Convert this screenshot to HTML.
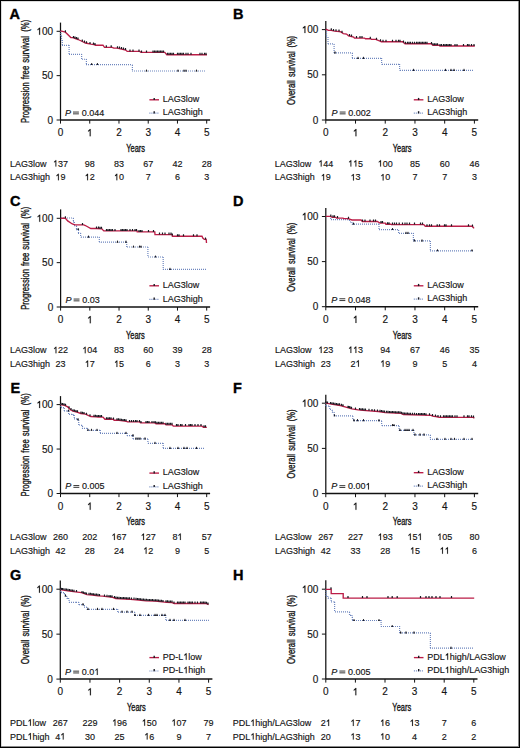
<!DOCTYPE html>
<html><head><meta charset="utf-8"><style>
html,body{margin:0;padding:0;background:#fff;}
body{width:520px;height:748px;overflow:hidden;}
svg{display:block;}
text{font-family:"Liberation Sans",sans-serif;fill:#141414;}
.n{font-size:9px;stroke:#141414;stroke-width:0.15px;}
.t{font-size:10px;stroke:#141414;stroke-width:0.15px;}
.lt{font-size:14.5px;font-weight:bold;fill:#000;stroke:#000;stroke-width:0.35px;}
.yl{font-size:10.8px;stroke:#141414;stroke-width:0.35px;}
.ay{stroke:#111;stroke-width:1.25;fill:none;}
.ax{stroke:#111;stroke-width:1.5;fill:none;}
.tk{stroke:#111;stroke-width:1;fill:none;}
.cr{stroke:#bb1d47;stroke-width:1.35;fill:none;stroke-linejoin:miter;}
.cb{stroke:#6f87bf;stroke-width:1.2;fill:none;stroke-dasharray:1 1;}
.cm{fill:#1a1a22;stroke:none;}
.eq{stroke:#141414;stroke-width:0.85;fill:none;}
.one{fill:#141414;stroke:#141414;stroke-width:0.015;}
</style></head><body>
<svg width="520" height="748" viewBox="0 0 520 748">
<rect x="0" y="0" width="520" height="748" fill="#fff"/>
<g><text x="9.4" y="18.75" class="lt">A</text>
<path d="M60.5 22.6V120" class="ay"/>
<path d="M60.5 120H210.1" class="ax"/>
<path d="M56.6 31.3H60.5" class="tk"/>
<path d="M0.368 0H0.275V-0.545L0.112 -0.452V-0.548L0.3 -0.716H0.368Z" transform="matrix(10 0 0 10 36.42 34.8)" class="one"/><text x="41.98" y="34.8" class="t">00</text>
<path d="M56.6 75.65H60.5" class="tk"/>
<text x="41.98" y="79.15" class="t">50</text>
<path d="M56.6 120H60.5" class="tk"/>
<text x="47.54" y="123.5" class="t">0</text>
<path d="M60.5 120V123.6" class="tk"/>
<text x="57.72" y="136.2" class="t">0</text>
<path d="M89.74 120V123.6" class="tk"/>
<path d="M0.368 0H0.275V-0.545L0.112 -0.452V-0.548L0.3 -0.716H0.368Z" transform="matrix(10 0 0 10 86.96 136.2)" class="one"/>
<path d="M118.98 120V123.6" class="tk"/>
<text x="116.2" y="136.2" class="t">2</text>
<path d="M148.22 120V123.6" class="tk"/>
<text x="145.44" y="136.2" class="t">3</text>
<path d="M177.46 120V123.6" class="tk"/>
<text x="174.68" y="136.2" class="t">4</text>
<path d="M206.7 120V123.6" class="tk"/>
<text x="203.92" y="136.2" class="t">5</text>
<text x="135.6" y="151.8" class="yl" text-anchor="middle" textLength="18.8" lengthAdjust="spacingAndGlyphs">Years</text>
<g transform="translate(29.2,71.3) rotate(-90)"><text x="-51.6" y="0" class="yl" textLength="40.7" lengthAdjust="spacingAndGlyphs">Progression</text><text x="-7.9" y="0" class="yl" textLength="13.4" lengthAdjust="spacingAndGlyphs">free</text><text x="8.5" y="0" class="yl" textLength="26.8" lengthAdjust="spacingAndGlyphs">survival</text><text x="39.5" y="0" class="yl" textLength="12" lengthAdjust="spacingAndGlyphs">(%)</text></g>
<path d="M60.8 31V36" class="cb"/>
<path d="M61 36H61.5" class="cb"/>
<path d="M61.5 36V40.5" class="cb"/>
<path d="M62 40.5H62.3" class="cb"/>
<path d="M62.3 40V45.3" class="cb"/>
<path d="M62 45.3H69.1" class="cb"/>
<path d="M69.1 45V54.4" class="cb"/>
<path d="M69 54.4H81.6" class="cb"/>
<path d="M81.6 54V59.25" class="cb"/>
<path d="M82 59.25H86.4" class="cb"/>
<path d="M86.4 59V64.6" class="cb"/>
<path d="M86 64.6H132.4" class="cb"/>
<path d="M132.4 65V71" class="cb"/>
<path d="M132 71H205.6" class="cb"/>
<polyline points="60.5,30.9 65.4,32.2 70.8,37.6 72.7,37.6 78.1,39.5 82.3,41.5 85.4,43 90.8,44.2 93.8,44.5 95.4,45.2 103,45.2 104.5,47.3 112.2,47.3 113.8,48.1 117.2,48.1 125.7,50 127.2,51.4 139.8,51.4 141,52.4 164.8,52.4 166.8,54.7 207,54.7" class="cr"/>
<path d="M64.7 32.2h1.4l-0.15 -2h-1.1zM72.8 37.88h1.4l-0.15 -2h-1.1zM74.3 38.41h1.4l-0.15 -2h-1.1zM75.8 38.94h1.4l-0.15 -2h-1.1zM77.3 39.46h1.4l-0.15 -2h-1.1zM81.6 41.5h1.4l-0.15 -2h-1.1zM83.8 42.56h1.4l-0.15 -2h-1.1zM85.8 43.24h1.4l-0.15 -2h-1.1zM89.3 44.02h1.4l-0.15 -2h-1.1zM92.8 44.47h1.4l-0.15 -2h-1.1zM94.3 45.02h1.4l-0.15 -2h-1.1zM105.6 47.3h1.4l-0.15 -2h-1.1zM110.5 47.3h1.4l-0.15 -2h-1.1zM116.8 48.17h1.4l-0.15 -2h-1.1zM118.8 48.61h1.4l-0.15 -2h-1.1zM120.8 49.06h1.4l-0.15 -2h-1.1zM122.8 49.51h1.4l-0.15 -2h-1.1zM124.8 49.96h1.4l-0.15 -2h-1.1zM129.3 51.4h1.4l-0.15 -2h-1.1zM132.3 51.4h1.4l-0.15 -2h-1.1zM138.3 51.4h1.4l-0.15 -2h-1.1zM140.8 52.4h1.4l-0.15 -2h-1.1zM145.8 52.4h1.4l-0.15 -2h-1.1zM152.3 52.4h1.4l-0.15 -2h-1.1zM153.8 52.4h1.4l-0.15 -2h-1.1zM155.3 52.4h1.4l-0.15 -2h-1.1zM156.8 52.4h1.4l-0.15 -2h-1.1zM158.3 52.4h1.4l-0.15 -2h-1.1zM159.8 52.4h1.4l-0.15 -2h-1.1zM161.3 52.4h1.4l-0.15 -2h-1.1zM162.8 52.4h1.4l-0.15 -2h-1.1zM166.8 54.7h1.4l-0.15 -2h-1.1zM168.3 54.7h1.4l-0.15 -2h-1.1zM169.8 54.7h1.4l-0.15 -2h-1.1zM171.3 54.7h1.4l-0.15 -2h-1.1zM172.8 54.7h1.4l-0.15 -2h-1.1zM176.8 54.7h1.4l-0.15 -2h-1.1zM178.3 54.7h1.4l-0.15 -2h-1.1zM179.8 54.7h1.4l-0.15 -2h-1.1zM181.3 54.7h1.4l-0.15 -2h-1.1zM182.8 54.7h1.4l-0.15 -2h-1.1zM185.3 54.7h1.4l-0.15 -2h-1.1zM187.3 54.7h1.4l-0.15 -2h-1.1zM190.3 54.7h1.4l-0.15 -2h-1.1zM199.3 54.7h1.4l-0.15 -2h-1.1zM201.3 54.7h1.4l-0.15 -2h-1.1zM203.8 54.7h1.4l-0.15 -2h-1.1zM205.3 54.7h1.4l-0.15 -2h-1.1zM90.7 65.1h2l-0.7 -2.1h-0.6zM96.4 65.1h2l-0.7 -2.1h-0.6zM145.5 71.5h2l-0.7 -2.1h-0.6zM177 71.5h2l-0.7 -2.1h-0.6zM183 71.5h2l-0.7 -2.1h-0.6zM185 71.5h2l-0.7 -2.1h-0.6zM195.5 71.5h2l-0.7 -2.1h-0.6z" class="cm"/>
<path d="M149.4 99.8H159" class="cr"/>
<path d="M153.5 100.1h1.4v-2.2h-1.4z" class="cm"/>
<text x="162.8" y="102" class="n">LAG3low</text>
<path d="M149.4 113.1H159" class="cb"/>
<path d="M153.5 113.4h1.4v-2.2h-1.4z" class="cm"/>
<text x="162.8" y="115.3" class="n">LAG3high</text>
<text x="64.9" y="115.8" class="n" font-style="italic">P</text>
<path d="M73 112.05h5.9M73 113.85h5.9" class="eq"/>
<text x="81.65" y="115.8" class="n">0.044</text>
<text x="10" y="166.6" class="n">LAG3low</text>
<path d="M0.368 0H0.275V-0.545L0.112 -0.452V-0.548L0.3 -0.716H0.368Z" transform="matrix(9 0 0 9 52.99 166.6)" class="one"/><text x="58" y="166.6" class="n">37</text>
<text x="84.73" y="166.6" class="n">98</text>
<text x="113.97" y="166.6" class="n">83</text>
<text x="143.21" y="166.6" class="n">67</text>
<text x="172.45" y="166.6" class="n">42</text>
<text x="201.69" y="166.6" class="n">28</text>
<text x="10" y="180.3" class="n">LAG3high</text>
<path d="M0.368 0H0.275V-0.545L0.112 -0.452V-0.548L0.3 -0.716H0.368Z" transform="matrix(9 0 0 9 55.49 180.3)" class="one"/><text x="60.5" y="180.3" class="n">9</text>
<path d="M0.368 0H0.275V-0.545L0.112 -0.452V-0.548L0.3 -0.716H0.368Z" transform="matrix(9 0 0 9 84.73 180.3)" class="one"/><text x="89.74" y="180.3" class="n">2</text>
<path d="M0.368 0H0.275V-0.545L0.112 -0.452V-0.548L0.3 -0.716H0.368Z" transform="matrix(9 0 0 9 113.97 180.3)" class="one"/><text x="118.98" y="180.3" class="n">0</text>
<text x="145.72" y="180.3" class="n">7</text>
<text x="174.96" y="180.3" class="n">6</text>
<text x="204.2" y="180.3" class="n">3</text></g>
<g><text x="233.1" y="18.5" class="lt">B</text>
<path d="M325.8 21V120" class="ay"/>
<path d="M325.8 120H478.2" class="ax"/>
<path d="M321.9 29.6H325.8" class="tk"/>
<path d="M0.368 0H0.275V-0.545L0.112 -0.452V-0.548L0.3 -0.716H0.368Z" transform="matrix(10 0 0 10 301.72 33.1)" class="one"/><text x="307.28" y="33.1" class="t">00</text>
<path d="M321.9 74.8H325.8" class="tk"/>
<text x="307.28" y="78.3" class="t">50</text>
<path d="M321.9 120H325.8" class="tk"/>
<text x="312.84" y="123.5" class="t">0</text>
<path d="M325.8 120V123.6" class="tk"/>
<text x="323.02" y="136.2" class="t">0</text>
<path d="M355.52 120V123.6" class="tk"/>
<path d="M0.368 0H0.275V-0.545L0.112 -0.452V-0.548L0.3 -0.716H0.368Z" transform="matrix(10 0 0 10 352.74 136.2)" class="one"/>
<path d="M385.24 120V123.6" class="tk"/>
<text x="382.46" y="136.2" class="t">2</text>
<path d="M414.96 120V123.6" class="tk"/>
<text x="412.18" y="136.2" class="t">3</text>
<path d="M444.68 120V123.6" class="tk"/>
<text x="441.9" y="136.2" class="t">4</text>
<path d="M474.4 120V123.6" class="tk"/>
<text x="471.62" y="136.2" class="t">5</text>
<text x="402.1" y="151.8" class="yl" text-anchor="middle" textLength="18.8" lengthAdjust="spacingAndGlyphs">Years</text>
<g transform="translate(294.5,70.5) rotate(-90)"><text x="-34.4" y="0" class="yl" textLength="24.6" lengthAdjust="spacingAndGlyphs">Overall</text><text x="-6.6" y="0" class="yl" textLength="25.7" lengthAdjust="spacingAndGlyphs">survival</text><text x="22.9" y="0" class="yl" textLength="11.7" lengthAdjust="spacingAndGlyphs">(%)</text></g>
<path d="M326 29.4H326.5" class="cb"/>
<path d="M326.5 29V37" class="cb"/>
<path d="M326 37H327.8" class="cb"/>
<path d="M328 37V43.8" class="cb"/>
<path d="M328 43.8H334.1" class="cb"/>
<path d="M334.1 44V52.9" class="cb"/>
<path d="M334 52.9H352.4" class="cb"/>
<path d="M352.4 53V58.4" class="cb"/>
<path d="M352 58.4H381.6" class="cb"/>
<path d="M381.6 58V64.4" class="cb"/>
<path d="M382 64.4H399.6" class="cb"/>
<path d="M399.6 64V70.4" class="cb"/>
<path d="M400 70.4H473.6" class="cb"/>
<polyline points="325.8,29.1 328.4,30.3 331.2,30.3 334.6,31.2 339.4,31.5 341.3,32.2 343.3,33.6 346.6,34.1 348.5,35.8 353.7,37.2 354.5,38.1 364.6,38.1 365.5,38.7 370.4,38.7 371.5,39.4 375.8,39.4 378.7,40.5 381.3,41.7 402.6,41.7 405,43.7 431,43.7 433,45.2 438.7,45.2 440,46 474.8,46" class="cr"/>
<path d="M330.6 30.33h1.4l-0.15 -2h-1.1zM332.8 30.91h1.4l-0.15 -2h-1.1zM335.3 31.29h1.4l-0.15 -2h-1.1zM338.3 31.48h1.4l-0.15 -2h-1.1zM341.3 32.69h1.4l-0.15 -2h-1.1zM348.8 36.07h1.4l-0.15 -2h-1.1zM350.8 36.61h1.4l-0.15 -2h-1.1zM355.8 38.1h1.4l-0.15 -2h-1.1zM359.3 38.1h1.4l-0.15 -2h-1.1zM361.3 38.1h1.4l-0.15 -2h-1.1zM369.6 38.7h1.4l-0.15 -2h-1.1zM375.8 39.67h1.4l-0.15 -2h-1.1zM379.8 41.33h1.4l-0.15 -2h-1.1zM382.3 41.7h1.4l-0.15 -2h-1.1zM385.3 41.7h1.4l-0.15 -2h-1.1zM391.8 41.7h1.4l-0.15 -2h-1.1zM395.3 41.7h1.4l-0.15 -2h-1.1zM397.8 41.7h1.4l-0.15 -2h-1.1zM399.3 41.7h1.4l-0.15 -2h-1.1zM402.8 42.45h1.4l-0.15 -2h-1.1zM404.8 43.7h1.4l-0.15 -2h-1.1zM406.8 43.7h1.4l-0.15 -2h-1.1zM408.3 43.7h1.4l-0.15 -2h-1.1zM409.8 43.7h1.4l-0.15 -2h-1.1zM411.8 43.7h1.4l-0.15 -2h-1.1zM413.8 43.7h1.4l-0.15 -2h-1.1zM415.8 43.7h1.4l-0.15 -2h-1.1zM417.3 43.7h1.4l-0.15 -2h-1.1zM418.8 43.7h1.4l-0.15 -2h-1.1zM420.3 43.7h1.4l-0.15 -2h-1.1zM421.8 43.7h1.4l-0.15 -2h-1.1zM423.3 43.7h1.4l-0.15 -2h-1.1zM424.8 43.7h1.4l-0.15 -2h-1.1zM426.3 43.7h1.4l-0.15 -2h-1.1zM430.8 44.08h1.4l-0.15 -2h-1.1zM432.3 45.2h1.4l-0.15 -2h-1.1zM433.8 45.2h1.4l-0.15 -2h-1.1zM435.3 45.2h1.4l-0.15 -2h-1.1zM436.8 45.2h1.4l-0.15 -2h-1.1zM439.3 46h1.4l-0.15 -2h-1.1zM440.8 46h1.4l-0.15 -2h-1.1zM442.8 46h1.4l-0.15 -2h-1.1zM444.3 46h1.4l-0.15 -2h-1.1zM445.8 46h1.4l-0.15 -2h-1.1zM447.3 46h1.4l-0.15 -2h-1.1zM448.8 46h1.4l-0.15 -2h-1.1zM450.3 46h1.4l-0.15 -2h-1.1zM454.3 46h1.4l-0.15 -2h-1.1zM456.3 46h1.4l-0.15 -2h-1.1zM462.8 46h1.4l-0.15 -2h-1.1zM466.8 46h1.4l-0.15 -2h-1.1zM468.3 46h1.4l-0.15 -2h-1.1zM470.8 46h1.4l-0.15 -2h-1.1zM473.3 46h1.4l-0.15 -2h-1.1zM334 53.4h2l-0.7 -2.1h-0.6zM357 58.9h2l-0.7 -2.1h-0.6zM362.5 58.9h2l-0.7 -2.1h-0.6zM412.6 70.9h2l-0.7 -2.1h-0.6zM444.5 70.9h2l-0.7 -2.1h-0.6zM450 70.9h2l-0.7 -2.1h-0.6zM453 70.9h2l-0.7 -2.1h-0.6zM463 70.9h2l-0.7 -2.1h-0.6z" class="cm"/>
<path d="M413.8 99.8H423.4" class="cr"/>
<path d="M417.9 100.1h1.4v-2.2h-1.4z" class="cm"/>
<text x="427.2" y="102" class="n">LAG3low</text>
<path d="M413.8 113.1H423.4" class="cb"/>
<path d="M417.9 113.4h1.4v-2.2h-1.4z" class="cm"/>
<text x="427.2" y="115.3" class="n">LAG3high</text>
<text x="331.6" y="115.8" class="n" font-style="italic">P</text>
<path d="M339.7 112.05h5.9M339.7 113.85h5.9" class="eq"/>
<text x="348.35" y="115.8" class="n">0.002</text>
<text x="274.7" y="166.6" class="n">LAG3low</text>
<path d="M0.368 0H0.275V-0.545L0.112 -0.452V-0.548L0.3 -0.716H0.368Z" transform="matrix(9 0 0 9 318.29 166.6)" class="one"/><text x="323.3" y="166.6" class="n">44</text>
<path d="M0.368 0H0.275V-0.545L0.112 -0.452V-0.548L0.3 -0.716H0.368Z" transform="matrix(9 0 0 9 348.01 166.6)" class="one"/><path d="M0.368 0H0.275V-0.545L0.112 -0.452V-0.548L0.3 -0.716H0.368Z" transform="matrix(9 0 0 9 353.02 166.6)" class="one"/><text x="358.02" y="166.6" class="n">5</text>
<path d="M0.368 0H0.275V-0.545L0.112 -0.452V-0.548L0.3 -0.716H0.368Z" transform="matrix(9 0 0 9 377.73 166.6)" class="one"/><text x="382.74" y="166.6" class="n">00</text>
<text x="409.95" y="166.6" class="n">85</text>
<text x="439.67" y="166.6" class="n">60</text>
<text x="469.39" y="166.6" class="n">46</text>
<text x="274.7" y="180.4" class="n">LAG3high</text>
<path d="M0.368 0H0.275V-0.545L0.112 -0.452V-0.548L0.3 -0.716H0.368Z" transform="matrix(9 0 0 9 320.79 180.4)" class="one"/><text x="325.8" y="180.4" class="n">9</text>
<path d="M0.368 0H0.275V-0.545L0.112 -0.452V-0.548L0.3 -0.716H0.368Z" transform="matrix(9 0 0 9 350.51 180.4)" class="one"/><text x="355.52" y="180.4" class="n">3</text>
<path d="M0.368 0H0.275V-0.545L0.112 -0.452V-0.548L0.3 -0.716H0.368Z" transform="matrix(9 0 0 9 380.23 180.4)" class="one"/><text x="385.24" y="180.4" class="n">0</text>
<text x="412.46" y="180.4" class="n">7</text>
<text x="442.18" y="180.4" class="n">7</text>
<text x="471.9" y="180.4" class="n">3</text></g>
<g><text x="10" y="205.8" class="lt">C</text>
<path d="M60.6 209.4V307" class="ay"/>
<path d="M60.6 307H210.1" class="ax"/>
<path d="M56.7 218.3H60.6" class="tk"/>
<path d="M0.368 0H0.275V-0.545L0.112 -0.452V-0.548L0.3 -0.716H0.368Z" transform="matrix(10 0 0 10 36.52 221.8)" class="one"/><text x="42.08" y="221.8" class="t">00</text>
<path d="M56.7 262.65H60.6" class="tk"/>
<text x="42.08" y="266.15" class="t">50</text>
<path d="M56.7 307H60.6" class="tk"/>
<text x="47.64" y="310.5" class="t">0</text>
<path d="M60.6 307V310.6" class="tk"/>
<text x="57.82" y="323.2" class="t">0</text>
<path d="M89.82 307V310.6" class="tk"/>
<path d="M0.368 0H0.275V-0.545L0.112 -0.452V-0.548L0.3 -0.716H0.368Z" transform="matrix(10 0 0 10 87.04 323.2)" class="one"/>
<path d="M119.04 307V310.6" class="tk"/>
<text x="116.26" y="323.2" class="t">2</text>
<path d="M148.26 307V310.6" class="tk"/>
<text x="145.48" y="323.2" class="t">3</text>
<path d="M177.48 307V310.6" class="tk"/>
<text x="174.7" y="323.2" class="t">4</text>
<path d="M206.7 307V310.6" class="tk"/>
<text x="203.92" y="323.2" class="t">5</text>
<text x="135.4" y="338.8" class="yl" text-anchor="middle" textLength="18.8" lengthAdjust="spacingAndGlyphs">Years</text>
<g transform="translate(29.3,258.2) rotate(-90)"><text x="-51.6" y="0" class="yl" textLength="40.7" lengthAdjust="spacingAndGlyphs">Progression</text><text x="-7.9" y="0" class="yl" textLength="13.4" lengthAdjust="spacingAndGlyphs">free</text><text x="8.5" y="0" class="yl" textLength="26.8" lengthAdjust="spacingAndGlyphs">survival</text><text x="39.5" y="0" class="yl" textLength="12" lengthAdjust="spacingAndGlyphs">(%)</text></g>
<path d="M61 218H73.4" class="cb"/>
<path d="M73.4 218V221.9" class="cb"/>
<path d="M73 221.9H74.4" class="cb"/>
<path d="M74.4 222V225.7" class="cb"/>
<path d="M74 225.7H76.5" class="cb"/>
<path d="M76.5 226V229.6" class="cb"/>
<path d="M76 229.6H78.5" class="cb"/>
<path d="M78.5 230V233.4" class="cb"/>
<path d="M78 233.4H80.6" class="cb"/>
<path d="M80.6 233V237.2" class="cb"/>
<path d="M81 237.2H99.3" class="cb"/>
<path d="M99.3 237V241.9" class="cb"/>
<path d="M99 241.9H100.8" class="cb"/>
<path d="M100.8 242V242.2" class="cb"/>
<path d="M101 242.2H126.7" class="cb"/>
<path d="M126.7 242V247" class="cb"/>
<path d="M127 247H147.9" class="cb"/>
<path d="M147.9 247V257" class="cb"/>
<path d="M148 257H163.2" class="cb"/>
<path d="M163.2 257V269.4" class="cb"/>
<path d="M163 269.4H206.5" class="cb"/>
<polyline points="60.6,218.2 65.4,218.2 67.7,220.9 72.3,224 75,224.9 83.8,224.9 85.4,225.5 90.8,228.5 96.2,228.5 101.8,228.8 103.8,230.9 137,230.9 137.2,231.9 154.8,231.9 155,234.6 172.2,234.6 172.4,236.2 202,236.2 202.8,238 204.3,239.4 206.2,239.4 206.5,243" class="cr"/>
<path d="M64.7 218.2h1.4l-0.15 -2h-1.1zM81.8 224.9h1.4l-0.15 -2h-1.1zM95.8 228.52h1.4l-0.15 -2h-1.1zM97.8 228.62h1.4l-0.15 -2h-1.1zM99.3 228.7h1.4l-0.15 -2h-1.1zM100.8 228.78h1.4l-0.15 -2h-1.1zM105.8 230.9h1.4l-0.15 -2h-1.1zM107.3 230.9h1.4l-0.15 -2h-1.1zM108.8 230.9h1.4l-0.15 -2h-1.1zM110.3 230.9h1.4l-0.15 -2h-1.1zM111.8 230.9h1.4l-0.15 -2h-1.1zM114.3 230.9h1.4l-0.15 -2h-1.1zM120.3 230.9h1.4l-0.15 -2h-1.1zM121.8 230.9h1.4l-0.15 -2h-1.1zM123.3 230.9h1.4l-0.15 -2h-1.1zM124.8 230.9h1.4l-0.15 -2h-1.1zM126.3 230.9h1.4l-0.15 -2h-1.1zM129.3 230.9h1.4l-0.15 -2h-1.1zM131.8 230.9h1.4l-0.15 -2h-1.1zM134.3 230.9h1.4l-0.15 -2h-1.1zM135.8 230.9h1.4l-0.15 -2h-1.1zM138.3 231.9h1.4l-0.15 -2h-1.1zM139.8 231.9h1.4l-0.15 -2h-1.1zM141.3 231.9h1.4l-0.15 -2h-1.1zM147.8 231.9h1.4l-0.15 -2h-1.1zM152.8 231.9h1.4l-0.15 -2h-1.1zM158.8 234.6h1.4l-0.15 -2h-1.1zM161.8 234.6h1.4l-0.15 -2h-1.1zM164.3 234.6h1.4l-0.15 -2h-1.1zM168.3 234.6h1.4l-0.15 -2h-1.1zM170.3 234.6h1.4l-0.15 -2h-1.1zM171.6 235.4h1.4l-0.15 -2h-1.1zM176.8 236.2h1.4l-0.15 -2h-1.1zM178.3 236.2h1.4l-0.15 -2h-1.1zM182.8 236.2h1.4l-0.15 -2h-1.1zM192.8 236.2h1.4l-0.15 -2h-1.1zM196.3 236.2h1.4l-0.15 -2h-1.1zM204.8 239.4h1.4l-0.15 -2h-1.1zM77.2 230.1h2l-0.7 -2.1h-0.6zM87.5 237.7h2l-0.7 -2.1h-0.6zM116.5 242.7h2l-0.7 -2.1h-0.6zM125 242.7h2l-0.7 -2.1h-0.6zM132.5 247.5h2l-0.7 -2.1h-0.6zM138.5 247.5h2l-0.7 -2.1h-0.6zM140 247.5h2l-0.7 -2.1h-0.6zM154.5 257.5h2l-0.7 -2.1h-0.6zM169 269.9h2l-0.7 -2.1h-0.6z" class="cm"/>
<path d="M149.4 285.8H159" class="cr"/>
<path d="M153.5 286.1h1.4v-2.2h-1.4z" class="cm"/>
<text x="162.8" y="288" class="n">LAG3low</text>
<path d="M149.4 299.4H159" class="cb"/>
<path d="M153.5 299.7h1.4v-2.2h-1.4z" class="cm"/>
<text x="162.8" y="301.6" class="n">LAG3high</text>
<text x="65.5" y="302.8" class="n" font-style="italic">P</text>
<path d="M73.6 299.05h5.9M73.6 300.85h5.9" class="eq"/>
<text x="82.25" y="302.8" class="n">0.03</text>
<text x="10" y="353.25" class="n">LAG3low</text>
<path d="M0.368 0H0.275V-0.545L0.112 -0.452V-0.548L0.3 -0.716H0.368Z" transform="matrix(9 0 0 9 53.09 353.25)" class="one"/><text x="58.1" y="353.25" class="n">22</text>
<path d="M0.368 0H0.275V-0.545L0.112 -0.452V-0.548L0.3 -0.716H0.368Z" transform="matrix(9 0 0 9 82.31 353.25)" class="one"/><text x="87.32" y="353.25" class="n">04</text>
<text x="114.03" y="353.25" class="n">83</text>
<text x="143.25" y="353.25" class="n">60</text>
<text x="172.47" y="353.25" class="n">39</text>
<text x="201.69" y="353.25" class="n">28</text>
<text x="10" y="367" class="n">LAG3high</text>
<text x="55.59" y="367" class="n">23</text>
<path d="M0.368 0H0.275V-0.545L0.112 -0.452V-0.548L0.3 -0.716H0.368Z" transform="matrix(9 0 0 9 84.81 367)" class="one"/><text x="89.82" y="367" class="n">7</text>
<path d="M0.368 0H0.275V-0.545L0.112 -0.452V-0.548L0.3 -0.716H0.368Z" transform="matrix(9 0 0 9 114.03 367)" class="one"/><text x="119.04" y="367" class="n">5</text>
<text x="145.76" y="367" class="n">6</text>
<text x="174.98" y="367" class="n">3</text>
<text x="204.2" y="367" class="n">3</text></g>
<g><text x="233.1" y="205.8" class="lt">D</text>
<path d="M325.8 208.1V306.7" class="ay"/>
<path d="M325.8 306.7H478.2" class="ax"/>
<path d="M321.9 216.5H325.8" class="tk"/>
<path d="M0.368 0H0.275V-0.545L0.112 -0.452V-0.548L0.3 -0.716H0.368Z" transform="matrix(10 0 0 10 301.72 220)" class="one"/><text x="307.28" y="220" class="t">00</text>
<path d="M321.9 261.6H325.8" class="tk"/>
<text x="307.28" y="265.1" class="t">50</text>
<path d="M321.9 306.7H325.8" class="tk"/>
<text x="312.84" y="310.2" class="t">0</text>
<path d="M325.8 306.7V310.3" class="tk"/>
<text x="323.02" y="322.9" class="t">0</text>
<path d="M355.52 306.7V310.3" class="tk"/>
<path d="M0.368 0H0.275V-0.545L0.112 -0.452V-0.548L0.3 -0.716H0.368Z" transform="matrix(10 0 0 10 352.74 322.9)" class="one"/>
<path d="M385.24 306.7V310.3" class="tk"/>
<text x="382.46" y="322.9" class="t">2</text>
<path d="M414.96 306.7V310.3" class="tk"/>
<text x="412.18" y="322.9" class="t">3</text>
<path d="M444.68 306.7V310.3" class="tk"/>
<text x="441.9" y="322.9" class="t">4</text>
<path d="M474.4 306.7V310.3" class="tk"/>
<text x="471.62" y="322.9" class="t">5</text>
<text x="402.1" y="338.5" class="yl" text-anchor="middle" textLength="18.8" lengthAdjust="spacingAndGlyphs">Years</text>
<g transform="translate(294.5,257.4) rotate(-90)"><text x="-34.4" y="0" class="yl" textLength="24.6" lengthAdjust="spacingAndGlyphs">Overall</text><text x="-6.6" y="0" class="yl" textLength="25.7" lengthAdjust="spacingAndGlyphs">survival</text><text x="22.9" y="0" class="yl" textLength="11.7" lengthAdjust="spacingAndGlyphs">(%)</text></g>
<path d="M326 216.5H330.7" class="cb"/>
<path d="M330.7 216V219.6" class="cb"/>
<path d="M331 219.6H347.1" class="cb"/>
<path d="M347 219.6H349.5" class="cb"/>
<path d="M349.5 220V222" class="cb"/>
<path d="M350 222H351.9" class="cb"/>
<path d="M351.9 222V224.2" class="cb"/>
<path d="M352 224.2H379" class="cb"/>
<path d="M379 224V229.6" class="cb"/>
<path d="M379 229.6H398.6" class="cb"/>
<path d="M398.6 230V233.3" class="cb"/>
<path d="M399 233.3H413.4" class="cb"/>
<path d="M413.4 233V240.9" class="cb"/>
<path d="M413 240.9H430.4" class="cb"/>
<path d="M430.4 241V250.8" class="cb"/>
<path d="M430 250.8H473.6" class="cb"/>
<polyline points="325.8,216.3 330.4,216.3 332.3,217.3 335.8,217.3 336.5,218.1 343,218.1 343.5,218.6 348,218.6 352,220 361,220 362.5,221.5 377.3,221.5 380,223.1 385.4,223.1 385.9,224.2 390.8,224.2 391.3,224.6 423.8,224.6 425.3,226.2 472.2,226.2 473.5,227.7 474.2,227.7" class="cr"/>
<path d="M330.1 216.51h1.4l-0.15 -2h-1.1zM332.3 217.3h1.4l-0.15 -2h-1.1zM333.8 217.3h1.4l-0.15 -2h-1.1zM336.8 218.1h1.4l-0.15 -2h-1.1zM347.8 218.78h1.4l-0.15 -2h-1.1zM361.8 221.5h1.4l-0.15 -2h-1.1zM364.3 221.5h1.4l-0.15 -2h-1.1zM369.3 221.5h1.4l-0.15 -2h-1.1zM372.8 221.5h1.4l-0.15 -2h-1.1zM374.8 221.5h1.4l-0.15 -2h-1.1zM380.3 223.1h1.4l-0.15 -2h-1.1zM381.8 223.1h1.4l-0.15 -2h-1.1zM386.8 224.2h1.4l-0.15 -2h-1.1zM388.3 224.2h1.4l-0.15 -2h-1.1zM391.8 224.6h1.4l-0.15 -2h-1.1zM393.8 224.6h1.4l-0.15 -2h-1.1zM395.8 224.6h1.4l-0.15 -2h-1.1zM398.5 224.6h1.4l-0.15 -2h-1.1zM401.8 224.6h1.4l-0.15 -2h-1.1zM404.3 224.6h1.4l-0.15 -2h-1.1zM406.3 224.6h1.4l-0.15 -2h-1.1zM408.8 224.6h1.4l-0.15 -2h-1.1zM413.8 224.6h1.4l-0.15 -2h-1.1zM419.8 224.6h1.4l-0.15 -2h-1.1zM421.8 224.6h1.4l-0.15 -2h-1.1zM426.3 226.2h1.4l-0.15 -2h-1.1zM428.8 226.2h1.4l-0.15 -2h-1.1zM430.8 226.2h1.4l-0.15 -2h-1.1zM436.5 226.2h1.4l-0.15 -2h-1.1zM438.8 226.2h1.4l-0.15 -2h-1.1zM443.8 226.2h1.4l-0.15 -2h-1.1zM445.3 226.2h1.4l-0.15 -2h-1.1zM450.8 226.2h1.4l-0.15 -2h-1.1zM467.8 226.2h1.4l-0.15 -2h-1.1zM471.8 226.55h1.4l-0.15 -2h-1.1zM352.5 224.7h2l-0.7 -2.1h-0.6zM391.5 230.1h2l-0.7 -2.1h-0.6zM405 233.8h2l-0.7 -2.1h-0.6zM407 233.8h2l-0.7 -2.1h-0.6zM413.5 241.4h2l-0.7 -2.1h-0.6zM421 241.4h2l-0.7 -2.1h-0.6zM436.5 251.3h2l-0.7 -2.1h-0.6zM471 251.3h2l-0.7 -2.1h-0.6z" class="cm"/>
<path d="M413.8 285.8H423.4" class="cr"/>
<path d="M417.9 286.1h1.4v-2.2h-1.4z" class="cm"/>
<text x="427.2" y="288" class="n">LAG3low</text>
<path d="M413.8 299.2H423.4" class="cb"/>
<path d="M417.9 299.5h1.4v-2.2h-1.4z" class="cm"/>
<text x="427.2" y="301.4" class="n">LAG3high</text>
<text x="331.3" y="302.5" class="n" font-style="italic">P</text>
<path d="M339.4 298.75h5.9M339.4 300.55h5.9" class="eq"/>
<text x="348.05" y="302.5" class="n">0.048</text>
<text x="275" y="353" class="n">LAG3low</text>
<path d="M0.368 0H0.275V-0.545L0.112 -0.452V-0.548L0.3 -0.716H0.368Z" transform="matrix(9 0 0 9 318.29 353)" class="one"/><text x="323.3" y="353" class="n">23</text>
<path d="M0.368 0H0.275V-0.545L0.112 -0.452V-0.548L0.3 -0.716H0.368Z" transform="matrix(9 0 0 9 348.01 353)" class="one"/><path d="M0.368 0H0.275V-0.545L0.112 -0.452V-0.548L0.3 -0.716H0.368Z" transform="matrix(9 0 0 9 353.02 353)" class="one"/><text x="358.02" y="353" class="n">3</text>
<text x="380.23" y="353" class="n">94</text>
<text x="409.95" y="353" class="n">67</text>
<text x="439.67" y="353" class="n">46</text>
<text x="469.39" y="353" class="n">35</text>
<text x="275" y="366.75" class="n">LAG3high</text>
<text x="320.79" y="366.75" class="n">23</text>
<text x="350.51" y="366.75" class="n">2</text><path d="M0.368 0H0.275V-0.545L0.112 -0.452V-0.548L0.3 -0.716H0.368Z" transform="matrix(9 0 0 9 355.52 366.75)" class="one"/>
<path d="M0.368 0H0.275V-0.545L0.112 -0.452V-0.548L0.3 -0.716H0.368Z" transform="matrix(9 0 0 9 380.23 366.75)" class="one"/><text x="385.24" y="366.75" class="n">9</text>
<text x="412.46" y="366.75" class="n">9</text>
<text x="442.18" y="366.75" class="n">5</text>
<text x="471.9" y="366.75" class="n">4</text></g>
<g><text x="10.4" y="392.7" class="lt">E</text>
<path d="M60.5 396.1V493.5" class="ay"/>
<path d="M60.5 493.5H210.1" class="ax"/>
<path d="M56.6 404.6H60.5" class="tk"/>
<path d="M0.368 0H0.275V-0.545L0.112 -0.452V-0.548L0.3 -0.716H0.368Z" transform="matrix(10 0 0 10 36.42 408.1)" class="one"/><text x="41.98" y="408.1" class="t">00</text>
<path d="M56.6 449.05H60.5" class="tk"/>
<text x="41.98" y="452.55" class="t">50</text>
<path d="M56.6 493.5H60.5" class="tk"/>
<text x="47.54" y="497" class="t">0</text>
<path d="M60.5 493.5V497.1" class="tk"/>
<text x="57.72" y="509.7" class="t">0</text>
<path d="M89.74 493.5V497.1" class="tk"/>
<path d="M0.368 0H0.275V-0.545L0.112 -0.452V-0.548L0.3 -0.716H0.368Z" transform="matrix(10 0 0 10 86.96 509.7)" class="one"/>
<path d="M118.98 493.5V497.1" class="tk"/>
<text x="116.2" y="509.7" class="t">2</text>
<path d="M148.22 493.5V497.1" class="tk"/>
<text x="145.44" y="509.7" class="t">3</text>
<path d="M177.46 493.5V497.1" class="tk"/>
<text x="174.68" y="509.7" class="t">4</text>
<path d="M206.7 493.5V497.1" class="tk"/>
<text x="203.92" y="509.7" class="t">5</text>
<text x="135.6" y="525.3" class="yl" text-anchor="middle" textLength="18.8" lengthAdjust="spacingAndGlyphs">Years</text>
<g transform="translate(29.2,444.8) rotate(-90)"><text x="-51.6" y="0" class="yl" textLength="40.7" lengthAdjust="spacingAndGlyphs">Progression</text><text x="-7.9" y="0" class="yl" textLength="13.4" lengthAdjust="spacingAndGlyphs">free</text><text x="8.5" y="0" class="yl" textLength="26.8" lengthAdjust="spacingAndGlyphs">survival</text><text x="39.5" y="0" class="yl" textLength="12" lengthAdjust="spacingAndGlyphs">(%)</text></g>
<path d="M60 404.3H60.9" class="cb"/>
<path d="M60.9 404V407.7" class="cb"/>
<path d="M61 407.7H64.3" class="cb"/>
<path d="M64.3 408V411" class="cb"/>
<path d="M64 411H67.1" class="cb"/>
<path d="M67 411H68.6" class="cb"/>
<path d="M68.6 411V414.4" class="cb"/>
<path d="M69 414.4H72.9" class="cb"/>
<path d="M72.9 414V415.4" class="cb"/>
<path d="M73 415.4H74.3" class="cb"/>
<path d="M74.3 415V418.8" class="cb"/>
<path d="M74 418.8H77.2" class="cb"/>
<path d="M77.2 419V419.7" class="cb"/>
<path d="M77 419.7H78.7" class="cb"/>
<path d="M78.7 420V425" class="cb"/>
<path d="M79 425H81.6" class="cb"/>
<path d="M81.6 425V426.4" class="cb"/>
<path d="M82 426.4H82.5" class="cb"/>
<path d="M82.5 426V428.4" class="cb"/>
<path d="M82 428.4H86.8" class="cb"/>
<path d="M87 428.4H87.3" class="cb"/>
<path d="M87.3 428V430.3" class="cb"/>
<path d="M87 430.3H99.3" class="cb"/>
<path d="M99 430.3H100.3" class="cb"/>
<path d="M100.3 430V433.3" class="cb"/>
<path d="M100 433.3H125.1" class="cb"/>
<path d="M125 433.3H127.2" class="cb"/>
<path d="M127.2 433V435.7" class="cb"/>
<path d="M127 435.7H132" class="cb"/>
<path d="M132 435.7H133" class="cb"/>
<path d="M133 436V438.9" class="cb"/>
<path d="M133 438.9H147.9" class="cb"/>
<path d="M147.9 439V443.3" class="cb"/>
<path d="M148 443.3H163.2" class="cb"/>
<path d="M163.2 443V448.4" class="cb"/>
<path d="M163 448.4H204.9" class="cb"/>
<polyline points="60.5,404.6 64.6,405.4 67.7,406.9 70.8,410 73.1,411.2 77.7,412.3 80.8,413.5 85.4,414.2 90.8,416.5 96.2,416.9 98,417.1 103,417.1 104.9,419.2 113,419.2 114.2,420.2 117.2,420.2 126.5,421.3 127.6,421.9 139.5,421.9 140.6,422.9 154.8,422.9 156,423.7 164.8,423.7 166,424.8 172.2,424.8 173.3,426.1 202,426.1 203.5,427.3 206.8,427.3" class="cr"/>
<path d="M60.3 404.7h1.4l-0.15 -2h-1.1zM61.8 404.99h1.4l-0.15 -2h-1.1zM63.3 405.28h1.4l-0.15 -2h-1.1zM64.8 405.84h1.4l-0.15 -2h-1.1zM68.3 408.2h1.4l-0.15 -2h-1.1zM70.3 410.1h1.4l-0.15 -2h-1.1zM72.3 411.15h1.4l-0.15 -2h-1.1zM73.8 411.53h1.4l-0.15 -2h-1.1zM75.3 411.89h1.4l-0.15 -2h-1.1zM76.8 412.25h1.4l-0.15 -2h-1.1zM80.3 413.53h1.4l-0.15 -2h-1.1zM81.8 413.76h1.4l-0.15 -2h-1.1zM83.3 413.99h1.4l-0.15 -2h-1.1zM85.8 414.67h1.4l-0.15 -2h-1.1zM89.3 416.16h1.4l-0.15 -2h-1.1zM93.3 416.74h1.4l-0.15 -2h-1.1zM94.8 416.85h1.4l-0.15 -2h-1.1zM96.3 416.99h1.4l-0.15 -2h-1.1zM97.8 417.1h1.4l-0.15 -2h-1.1zM99.3 417.1h1.4l-0.15 -2h-1.1zM100.8 417.1h1.4l-0.15 -2h-1.1zM105.8 419.2h1.4l-0.15 -2h-1.1zM107.3 419.2h1.4l-0.15 -2h-1.1zM108.8 419.2h1.4l-0.15 -2h-1.1zM110.3 419.2h1.4l-0.15 -2h-1.1zM112.8 419.62h1.4l-0.15 -2h-1.1zM116.3 420.2h1.4l-0.15 -2h-1.1zM117.8 420.35h1.4l-0.15 -2h-1.1zM119.3 420.53h1.4l-0.15 -2h-1.1zM120.8 420.71h1.4l-0.15 -2h-1.1zM122.3 420.89h1.4l-0.15 -2h-1.1zM123.8 421.06h1.4l-0.15 -2h-1.1zM125.3 421.24h1.4l-0.15 -2h-1.1zM128.8 421.9h1.4l-0.15 -2h-1.1zM130.8 421.9h1.4l-0.15 -2h-1.1zM132.8 421.9h1.4l-0.15 -2h-1.1zM134.8 421.9h1.4l-0.15 -2h-1.1zM136.3 421.9h1.4l-0.15 -2h-1.1zM138.8 421.9h1.4l-0.15 -2h-1.1zM140.3 422.9h1.4l-0.15 -2h-1.1zM145.3 422.9h1.4l-0.15 -2h-1.1zM146.8 422.9h1.4l-0.15 -2h-1.1zM148.3 422.9h1.4l-0.15 -2h-1.1zM151.3 422.9h1.4l-0.15 -2h-1.1zM153.3 422.9h1.4l-0.15 -2h-1.1zM154.8 423.37h1.4l-0.15 -2h-1.1zM156.3 423.7h1.4l-0.15 -2h-1.1zM157.8 423.7h1.4l-0.15 -2h-1.1zM159.3 423.7h1.4l-0.15 -2h-1.1zM160.8 423.7h1.4l-0.15 -2h-1.1zM162.3 423.7h1.4l-0.15 -2h-1.1zM165.3 424.8h1.4l-0.15 -2h-1.1zM166.8 424.8h1.4l-0.15 -2h-1.1zM168.3 424.8h1.4l-0.15 -2h-1.1zM169.8 424.8h1.4l-0.15 -2h-1.1zM171.3 424.8h1.4l-0.15 -2h-1.1zM175.8 426.1h1.4l-0.15 -2h-1.1zM177.3 426.1h1.4l-0.15 -2h-1.1zM179.8 426.1h1.4l-0.15 -2h-1.1zM181.3 426.1h1.4l-0.15 -2h-1.1zM184.8 426.1h1.4l-0.15 -2h-1.1zM188.3 426.1h1.4l-0.15 -2h-1.1zM189.8 426.1h1.4l-0.15 -2h-1.1zM191.3 426.1h1.4l-0.15 -2h-1.1zM194.3 426.1h1.4l-0.15 -2h-1.1zM197.3 426.1h1.4l-0.15 -2h-1.1zM200.3 426.1h1.4l-0.15 -2h-1.1zM203.3 427.3h1.4l-0.15 -2h-1.1zM204.8 427.3h1.4l-0.15 -2h-1.1zM67.6 411.5h2l-0.7 -2.1h-0.6zM77 420.2h2l-0.7 -2.1h-0.6zM87 430.8h2l-0.7 -2.1h-0.6zM90.5 430.8h2l-0.7 -2.1h-0.6zM96 430.8h2l-0.7 -2.1h-0.6zM116 433.8h2l-0.7 -2.1h-0.6zM125 433.8h2l-0.7 -2.1h-0.6zM132 436.2h2l-0.7 -2.1h-0.6zM135 439.4h2l-0.7 -2.1h-0.6zM137 439.4h2l-0.7 -2.1h-0.6zM139 439.4h2l-0.7 -2.1h-0.6zM144 439.4h2l-0.7 -2.1h-0.6zM154 443.8h2l-0.7 -2.1h-0.6zM169 448.9h2l-0.7 -2.1h-0.6zM177 448.9h2l-0.7 -2.1h-0.6zM183 448.9h2l-0.7 -2.1h-0.6zM186 448.9h2l-0.7 -2.1h-0.6zM195.5 448.9h2l-0.7 -2.1h-0.6z" class="cm"/>
<path d="M149.4 473.1H159" class="cr"/>
<path d="M153.5 473.4h1.4v-2.2h-1.4z" class="cm"/>
<text x="162.8" y="475.3" class="n">LAG3low</text>
<path d="M149.4 486.8H159" class="cb"/>
<path d="M153.5 487.1h1.4v-2.2h-1.4z" class="cm"/>
<text x="162.8" y="489" class="n">LAG3high</text>
<text x="65.3" y="489.3" class="n" font-style="italic">P</text>
<path d="M73.4 485.55h5.9M73.4 487.35h5.9" class="eq"/>
<text x="82.05" y="489.3" class="n">0.005</text>
<text x="10" y="540" class="n">LAG3low</text>
<text x="52.99" y="540" class="n">260</text>
<text x="82.23" y="540" class="n">202</text>
<path d="M0.368 0H0.275V-0.545L0.112 -0.452V-0.548L0.3 -0.716H0.368Z" transform="matrix(9 0 0 9 111.47 540)" class="one"/><text x="116.48" y="540" class="n">67</text>
<path d="M0.368 0H0.275V-0.545L0.112 -0.452V-0.548L0.3 -0.716H0.368Z" transform="matrix(9 0 0 9 140.71 540)" class="one"/><text x="145.72" y="540" class="n">27</text>
<text x="172.45" y="540" class="n">8</text><path d="M0.368 0H0.275V-0.545L0.112 -0.452V-0.548L0.3 -0.716H0.368Z" transform="matrix(9 0 0 9 177.46 540)" class="one"/>
<text x="201.69" y="540" class="n">57</text>
<text x="10" y="553.75" class="n">LAG3high</text>
<text x="55.49" y="553.75" class="n">42</text>
<text x="84.73" y="553.75" class="n">28</text>
<text x="113.97" y="553.75" class="n">24</text>
<path d="M0.368 0H0.275V-0.545L0.112 -0.452V-0.548L0.3 -0.716H0.368Z" transform="matrix(9 0 0 9 143.21 553.75)" class="one"/><text x="148.22" y="553.75" class="n">2</text>
<text x="174.96" y="553.75" class="n">9</text>
<text x="204.2" y="553.75" class="n">5</text></g>
<g><text x="233.1" y="392.5" class="lt">F</text>
<path d="M325.8 394.8V493.6" class="ay"/>
<path d="M325.8 493.6H478.2" class="ax"/>
<path d="M321.9 403.2H325.8" class="tk"/>
<path d="M0.368 0H0.275V-0.545L0.112 -0.452V-0.548L0.3 -0.716H0.368Z" transform="matrix(10 0 0 10 301.72 406.7)" class="one"/><text x="307.28" y="406.7" class="t">00</text>
<path d="M321.9 448.4H325.8" class="tk"/>
<text x="307.28" y="451.9" class="t">50</text>
<path d="M321.9 493.6H325.8" class="tk"/>
<text x="312.84" y="497.1" class="t">0</text>
<path d="M325.8 493.6V497.2" class="tk"/>
<text x="323.02" y="509.8" class="t">0</text>
<path d="M355.52 493.6V497.2" class="tk"/>
<path d="M0.368 0H0.275V-0.545L0.112 -0.452V-0.548L0.3 -0.716H0.368Z" transform="matrix(10 0 0 10 352.74 509.8)" class="one"/>
<path d="M385.24 493.6V497.2" class="tk"/>
<text x="382.46" y="509.8" class="t">2</text>
<path d="M414.96 493.6V497.2" class="tk"/>
<text x="412.18" y="509.8" class="t">3</text>
<path d="M444.68 493.6V497.2" class="tk"/>
<text x="441.9" y="509.8" class="t">4</text>
<path d="M474.4 493.6V497.2" class="tk"/>
<text x="471.62" y="509.8" class="t">5</text>
<text x="402.1" y="525.4" class="yl" text-anchor="middle" textLength="18.8" lengthAdjust="spacingAndGlyphs">Years</text>
<g transform="translate(294.5,444.2) rotate(-90)"><text x="-34.4" y="0" class="yl" textLength="24.6" lengthAdjust="spacingAndGlyphs">Overall</text><text x="-6.6" y="0" class="yl" textLength="25.7" lengthAdjust="spacingAndGlyphs">survival</text><text x="22.9" y="0" class="yl" textLength="11.7" lengthAdjust="spacingAndGlyphs">(%)</text></g>
<path d="M326 403V406.2" class="cb"/>
<path d="M326 406.2H329.8" class="cb"/>
<path d="M329.8 406V409.5" class="cb"/>
<path d="M330 409.5H332.2" class="cb"/>
<path d="M332.2 410V412.2" class="cb"/>
<path d="M332 412.2H334.1" class="cb"/>
<path d="M334.1 412V415.8" class="cb"/>
<path d="M334 415.8H348.5" class="cb"/>
<path d="M348 415.8H352.8" class="cb"/>
<path d="M352.8 416V419.6" class="cb"/>
<path d="M353 419.6H353.8" class="cb"/>
<path d="M353.8 420V420.7" class="cb"/>
<path d="M354 420.7H379" class="cb"/>
<path d="M379 420.7H381.6" class="cb"/>
<path d="M381.6 421V425.6" class="cb"/>
<path d="M382 425.6H398" class="cb"/>
<path d="M398 425.6H399.1" class="cb"/>
<path d="M399.1 426V430.4" class="cb"/>
<path d="M399 430.4H412.9" class="cb"/>
<path d="M413 430.4H413.9" class="cb"/>
<path d="M413.9 430V434.9" class="cb"/>
<path d="M414 434.9H430.4" class="cb"/>
<path d="M430.4 435V439.3" class="cb"/>
<path d="M430 439.3H472.5" class="cb"/>
<polyline points="325.8,403.2 332.7,404.4 340.4,405.5 345.8,407.1 351.9,408.8 358.1,409.8 363,410.4 378.4,411.5 385.3,412.7 401,413.4 403.3,414.5 431,415.3 433.3,416.4 436,416.5 439.1,417.3 473,417.3 474.4,418.1" class="cr"/>
<path d="M325.3 403.23h1.4l-0.15 -2h-1.1zM326.8 403.5h1.4l-0.15 -2h-1.1zM329.8 404.02h1.4l-0.15 -2h-1.1zM331.3 404.28h1.4l-0.15 -2h-1.1zM332.8 404.51h1.4l-0.15 -2h-1.1zM334.3 404.73h1.4l-0.15 -2h-1.1zM335.8 404.94h1.4l-0.15 -2h-1.1zM337.3 405.16h1.4l-0.15 -2h-1.1zM338.8 405.37h1.4l-0.15 -2h-1.1zM340.8 405.83h1.4l-0.15 -2h-1.1zM342.3 406.27h1.4l-0.15 -2h-1.1zM347.3 407.71h1.4l-0.15 -2h-1.1zM348.3 407.99h1.4l-0.15 -2h-1.1zM349.3 408.27h1.4l-0.15 -2h-1.1zM350.8 408.69h1.4l-0.15 -2h-1.1zM354.8 409.38h1.4l-0.15 -2h-1.1zM358.8 409.97h1.4l-0.15 -2h-1.1zM360.3 410.16h1.4l-0.15 -2h-1.1zM361.8 410.34h1.4l-0.15 -2h-1.1zM363.3 410.47h1.4l-0.15 -2h-1.1zM364.8 410.58h1.4l-0.15 -2h-1.1zM368.3 410.83h1.4l-0.15 -2h-1.1zM371.3 411.04h1.4l-0.15 -2h-1.1zM373.8 411.22h1.4l-0.15 -2h-1.1zM376.8 411.44h1.4l-0.15 -2h-1.1zM379.3 411.78h1.4l-0.15 -2h-1.1zM380.8 412.04h1.4l-0.15 -2h-1.1zM382.3 412.3h1.4l-0.15 -2h-1.1zM383.8 412.56h1.4l-0.15 -2h-1.1zM385.8 412.75h1.4l-0.15 -2h-1.1zM387.3 412.82h1.4l-0.15 -2h-1.1zM388.8 412.89h1.4l-0.15 -2h-1.1zM390.3 412.95h1.4l-0.15 -2h-1.1zM391.8 413.02h1.4l-0.15 -2h-1.1zM393.3 413.09h1.4l-0.15 -2h-1.1zM394.8 413.15h1.4l-0.15 -2h-1.1zM396.3 413.22h1.4l-0.15 -2h-1.1zM397.8 413.29h1.4l-0.15 -2h-1.1zM399.3 413.36h1.4l-0.15 -2h-1.1zM400.8 413.64h1.4l-0.15 -2h-1.1zM402.3 414.36h1.4l-0.15 -2h-1.1zM403.8 414.53h1.4l-0.15 -2h-1.1zM405.3 414.58h1.4l-0.15 -2h-1.1zM406.8 414.62h1.4l-0.15 -2h-1.1zM408.3 414.66h1.4l-0.15 -2h-1.1zM409.8 414.71h1.4l-0.15 -2h-1.1zM411.8 414.77h1.4l-0.15 -2h-1.1zM413.8 414.82h1.4l-0.15 -2h-1.1zM415.8 414.88h1.4l-0.15 -2h-1.1zM417.8 414.94h1.4l-0.15 -2h-1.1zM419.3 414.98h1.4l-0.15 -2h-1.1zM420.8 415.03h1.4l-0.15 -2h-1.1zM422.3 415.07h1.4l-0.15 -2h-1.1zM423.8 415.11h1.4l-0.15 -2h-1.1zM425.3 415.16h1.4l-0.15 -2h-1.1zM428.8 415.26h1.4l-0.15 -2h-1.1zM431.8 416.02h1.4l-0.15 -2h-1.1zM434.8 416.48h1.4l-0.15 -2h-1.1zM437.3 417.02h1.4l-0.15 -2h-1.1zM439.8 417.3h1.4l-0.15 -2h-1.1zM442.8 417.3h1.4l-0.15 -2h-1.1zM444.3 417.3h1.4l-0.15 -2h-1.1zM445.8 417.3h1.4l-0.15 -2h-1.1zM447.3 417.3h1.4l-0.15 -2h-1.1zM448.8 417.3h1.4l-0.15 -2h-1.1zM450.3 417.3h1.4l-0.15 -2h-1.1zM451.8 417.3h1.4l-0.15 -2h-1.1zM454.3 417.3h1.4l-0.15 -2h-1.1zM456.3 417.3h1.4l-0.15 -2h-1.1zM463.3 417.3h1.4l-0.15 -2h-1.1zM466.8 417.3h1.4l-0.15 -2h-1.1zM468.3 417.3h1.4l-0.15 -2h-1.1zM470.8 417.3h1.4l-0.15 -2h-1.1zM472.8 417.59h1.4l-0.15 -2h-1.1zM333.5 416.3h2l-0.7 -2.1h-0.6zM353 421.2h2l-0.7 -2.1h-0.6zM356.5 421.2h2l-0.7 -2.1h-0.6zM362.5 421.2h2l-0.7 -2.1h-0.6zM378 421.2h2l-0.7 -2.1h-0.6zM391.5 426.1h2l-0.7 -2.1h-0.6zM393 426.1h2l-0.7 -2.1h-0.6zM399 430.9h2l-0.7 -2.1h-0.6zM404 430.9h2l-0.7 -2.1h-0.6zM406 430.9h2l-0.7 -2.1h-0.6zM408 430.9h2l-0.7 -2.1h-0.6zM412 430.9h2l-0.7 -2.1h-0.6zM414 435.4h2l-0.7 -2.1h-0.6zM419 435.4h2l-0.7 -2.1h-0.6zM423 435.4h2l-0.7 -2.1h-0.6zM436 439.8h2l-0.7 -2.1h-0.6zM444 439.8h2l-0.7 -2.1h-0.6zM450 439.8h2l-0.7 -2.1h-0.6zM453.5 439.8h2l-0.7 -2.1h-0.6zM463 439.8h2l-0.7 -2.1h-0.6zM471 439.8h2l-0.7 -2.1h-0.6z" class="cm"/>
<path d="M413.8 472.7H423.4" class="cr"/>
<path d="M417.9 473h1.4v-2.2h-1.4z" class="cm"/>
<text x="427.2" y="474.9" class="n">LAG3low</text>
<path d="M413.8 486.1H423.4" class="cb"/>
<path d="M417.9 486.4h1.4v-2.2h-1.4z" class="cm"/>
<text x="427.2" y="488.3" class="n">LAG3high</text>
<text x="331.3" y="489.4" class="n" font-style="italic">P</text>
<path d="M339.4 485.65h5.9M339.4 487.45h5.9" class="eq"/>
<text x="348.05" y="489.4" class="n">0.00</text><path d="M0.368 0H0.275V-0.545L0.112 -0.452V-0.548L0.3 -0.716H0.368Z" transform="matrix(9 0 0 9 365.57 489.4)" class="one"/>
<text x="275" y="540" class="n">LAG3low</text>
<text x="318.29" y="540" class="n">267</text>
<text x="348.01" y="540" class="n">227</text>
<path d="M0.368 0H0.275V-0.545L0.112 -0.452V-0.548L0.3 -0.716H0.368Z" transform="matrix(9 0 0 9 377.73 540)" class="one"/><text x="382.74" y="540" class="n">93</text>
<path d="M0.368 0H0.275V-0.545L0.112 -0.452V-0.548L0.3 -0.716H0.368Z" transform="matrix(9 0 0 9 407.45 540)" class="one"/><text x="412.46" y="540" class="n">5</text><path d="M0.368 0H0.275V-0.545L0.112 -0.452V-0.548L0.3 -0.716H0.368Z" transform="matrix(9 0 0 9 417.46 540)" class="one"/>
<path d="M0.368 0H0.275V-0.545L0.112 -0.452V-0.548L0.3 -0.716H0.368Z" transform="matrix(9 0 0 9 437.17 540)" class="one"/><text x="442.18" y="540" class="n">05</text>
<text x="469.39" y="540" class="n">80</text>
<text x="275" y="553.75" class="n">LAG3high</text>
<text x="320.79" y="553.75" class="n">42</text>
<text x="350.51" y="553.75" class="n">33</text>
<text x="380.23" y="553.75" class="n">28</text>
<path d="M0.368 0H0.275V-0.545L0.112 -0.452V-0.548L0.3 -0.716H0.368Z" transform="matrix(9 0 0 9 409.95 553.75)" class="one"/><text x="414.96" y="553.75" class="n">5</text>
<path d="M0.368 0H0.275V-0.545L0.112 -0.452V-0.548L0.3 -0.716H0.368Z" transform="matrix(9 0 0 9 439.67 553.75)" class="one"/><path d="M0.368 0H0.275V-0.545L0.112 -0.452V-0.548L0.3 -0.716H0.368Z" transform="matrix(9 0 0 9 444.68 553.75)" class="one"/>
<text x="471.9" y="553.75" class="n">6</text></g>
<g><text x="10" y="579.6" class="lt">G</text>
<path d="M60.3 580.6V679.1" class="ay"/>
<path d="M60.3 679.1H212.4" class="ax"/>
<path d="M56.4 589.2H60.3" class="tk"/>
<path d="M0.368 0H0.275V-0.545L0.112 -0.452V-0.548L0.3 -0.716H0.368Z" transform="matrix(10 0 0 10 36.22 592.7)" class="one"/><text x="41.78" y="592.7" class="t">00</text>
<path d="M56.4 634.15H60.3" class="tk"/>
<text x="41.78" y="637.65" class="t">50</text>
<path d="M56.4 679.1H60.3" class="tk"/>
<text x="47.34" y="682.6" class="t">0</text>
<path d="M60.3 679.1V682.7" class="tk"/>
<text x="57.52" y="695.3" class="t">0</text>
<path d="M89.96 679.1V682.7" class="tk"/>
<path d="M0.368 0H0.275V-0.545L0.112 -0.452V-0.548L0.3 -0.716H0.368Z" transform="matrix(10 0 0 10 87.18 695.3)" class="one"/>
<path d="M119.62 679.1V682.7" class="tk"/>
<text x="116.84" y="695.3" class="t">2</text>
<path d="M149.28 679.1V682.7" class="tk"/>
<text x="146.5" y="695.3" class="t">3</text>
<path d="M178.94 679.1V682.7" class="tk"/>
<text x="176.16" y="695.3" class="t">4</text>
<path d="M208.6 679.1V682.7" class="tk"/>
<text x="205.82" y="695.3" class="t">5</text>
<text x="136.4" y="710.9" class="yl" text-anchor="middle" textLength="18.8" lengthAdjust="spacingAndGlyphs">Years</text>
<g transform="translate(29,629.85) rotate(-90)"><text x="-34.4" y="0" class="yl" textLength="24.6" lengthAdjust="spacingAndGlyphs">Overall</text><text x="-6.6" y="0" class="yl" textLength="25.7" lengthAdjust="spacingAndGlyphs">survival</text><text x="22.9" y="0" class="yl" textLength="11.7" lengthAdjust="spacingAndGlyphs">(%)</text></g>
<path d="M60 589.3H60.9" class="cb"/>
<path d="M60.9 589V592.7" class="cb"/>
<path d="M61 592.7H64.3" class="cb"/>
<path d="M64.3 593V593.6" class="cb"/>
<path d="M64 593.6H65.2" class="cb"/>
<path d="M65.2 594V596" class="cb"/>
<path d="M65 596H66.7" class="cb"/>
<path d="M66.7 596V598.4" class="cb"/>
<path d="M67 598.4H68.6" class="cb"/>
<path d="M68.6 598V599.9" class="cb"/>
<path d="M69 599.9H69.1" class="cb"/>
<path d="M69.1 600V602.3" class="cb"/>
<path d="M69 602.3H75.8" class="cb"/>
<path d="M76 602.3H78.7" class="cb"/>
<path d="M78.7 602V604.7" class="cb"/>
<path d="M79 604.7H83" class="cb"/>
<path d="M83 604.7H84.4" class="cb"/>
<path d="M84.4 605V607.1" class="cb"/>
<path d="M84 607.1H86.8" class="cb"/>
<path d="M86.8 607V609.4" class="cb"/>
<path d="M87 609.4H114" class="cb"/>
<path d="M114 609.4H117.7" class="cb"/>
<path d="M117.7 609V612.1" class="cb"/>
<path d="M118 612.1H133.6" class="cb"/>
<path d="M134 612.1H134.6" class="cb"/>
<path d="M134.6 612V615.4" class="cb"/>
<path d="M135 615.4H164.1" class="cb"/>
<path d="M164 615.4H165.8" class="cb"/>
<path d="M165.8 615V620.4" class="cb"/>
<path d="M166 620.4H208.9" class="cb"/>
<polyline points="60.3,589.6 67.7,590.8 75.4,591.9 81.5,592.7 86.9,594.6 92.3,595 98,595.8 102.6,596.2 112.6,597.4 115.7,598.5 120.3,598.9 130.3,599.3 136,599.8 146,600.8 155.2,601.2 166.8,602.3 172,602.6 174.3,603.5 205.8,603.5 208.5,604.7" class="cr"/>
<path d="M60.3 589.71h1.4l-0.15 -2h-1.1zM61.3 589.88h1.4l-0.15 -2h-1.1zM62.3 590.04h1.4l-0.15 -2h-1.1zM64.3 590.36h1.4l-0.15 -2h-1.1zM65.8 590.61h1.4l-0.15 -2h-1.1zM67.3 590.84h1.4l-0.15 -2h-1.1zM68.8 591.06h1.4l-0.15 -2h-1.1zM70.3 591.27h1.4l-0.15 -2h-1.1zM71.8 591.49h1.4l-0.15 -2h-1.1zM73.3 591.7h1.4l-0.15 -2h-1.1zM75.8 592.04h1.4l-0.15 -2h-1.1zM81.3 592.88h1.4l-0.15 -2h-1.1zM82.8 593.4h1.4l-0.15 -2h-1.1zM84.3 593.93h1.4l-0.15 -2h-1.1zM85.8 594.46h1.4l-0.15 -2h-1.1zM88.3 594.76h1.4l-0.15 -2h-1.1zM89.8 594.87h1.4l-0.15 -2h-1.1zM91.3 594.98h1.4l-0.15 -2h-1.1zM92.8 595.17h1.4l-0.15 -2h-1.1zM94.3 595.38h1.4l-0.15 -2h-1.1zM95.8 595.59h1.4l-0.15 -2h-1.1zM97.3 595.8h1.4l-0.15 -2h-1.1zM98.8 595.93h1.4l-0.15 -2h-1.1zM103.8 596.43h1.4l-0.15 -2h-1.1zM106.3 596.73h1.4l-0.15 -2h-1.1zM108.3 596.97h1.4l-0.15 -2h-1.1zM109.8 597.15h1.4l-0.15 -2h-1.1zM111.3 597.33h1.4l-0.15 -2h-1.1zM113.8 598.07h1.4l-0.15 -2h-1.1zM115.3 598.53h1.4l-0.15 -2h-1.1zM116.8 598.66h1.4l-0.15 -2h-1.1zM118.3 598.79h1.4l-0.15 -2h-1.1zM119.8 598.91h1.4l-0.15 -2h-1.1zM121.3 598.97h1.4l-0.15 -2h-1.1zM122.8 599.03h1.4l-0.15 -2h-1.1zM124.3 599.09h1.4l-0.15 -2h-1.1zM125.8 599.15h1.4l-0.15 -2h-1.1zM127.3 599.21h1.4l-0.15 -2h-1.1zM128.8 599.27h1.4l-0.15 -2h-1.1zM130.8 599.41h1.4l-0.15 -2h-1.1zM133.3 599.62h1.4l-0.15 -2h-1.1zM135.3 599.8h1.4l-0.15 -2h-1.1zM136.8 599.95h1.4l-0.15 -2h-1.1zM138.3 600.1h1.4l-0.15 -2h-1.1zM139.8 600.25h1.4l-0.15 -2h-1.1zM141.3 600.4h1.4l-0.15 -2h-1.1zM142.8 600.55h1.4l-0.15 -2h-1.1zM144.3 600.7h1.4l-0.15 -2h-1.1zM145.8 600.82h1.4l-0.15 -2h-1.1zM147.3 600.89h1.4l-0.15 -2h-1.1zM148.8 600.95h1.4l-0.15 -2h-1.1zM150.3 601.02h1.4l-0.15 -2h-1.1zM151.8 601.08h1.4l-0.15 -2h-1.1zM153.3 601.15h1.4l-0.15 -2h-1.1zM154.8 601.23h1.4l-0.15 -2h-1.1zM156.3 601.37h1.4l-0.15 -2h-1.1zM157.8 601.51h1.4l-0.15 -2h-1.1zM159.3 601.66h1.4l-0.15 -2h-1.1zM160.8 601.8h1.4l-0.15 -2h-1.1zM162.3 601.94h1.4l-0.15 -2h-1.1zM165.3 602.22h1.4l-0.15 -2h-1.1zM166.8 602.34h1.4l-0.15 -2h-1.1zM168.3 602.43h1.4l-0.15 -2h-1.1zM169.8 602.51h1.4l-0.15 -2h-1.1zM171.3 602.6h1.4l-0.15 -2h-1.1zM173.3 603.38h1.4l-0.15 -2h-1.1zM176.8 603.5h1.4l-0.15 -2h-1.1zM178.3 603.5h1.4l-0.15 -2h-1.1zM179.8 603.5h1.4l-0.15 -2h-1.1zM181.3 603.5h1.4l-0.15 -2h-1.1zM182.8 603.5h1.4l-0.15 -2h-1.1zM184.3 603.5h1.4l-0.15 -2h-1.1zM187.3 603.5h1.4l-0.15 -2h-1.1zM188.8 603.5h1.4l-0.15 -2h-1.1zM190.3 603.5h1.4l-0.15 -2h-1.1zM191.8 603.5h1.4l-0.15 -2h-1.1zM194.3 603.5h1.4l-0.15 -2h-1.1zM196.8 603.5h1.4l-0.15 -2h-1.1zM199.8 603.5h1.4l-0.15 -2h-1.1zM201.3 603.5h1.4l-0.15 -2h-1.1zM202.8 603.5h1.4l-0.15 -2h-1.1zM204.3 603.5h1.4l-0.15 -2h-1.1zM205.8 603.81h1.4l-0.15 -2h-1.1zM207.3 604.48h1.4l-0.15 -2h-1.1zM64.5 596.5h2l-0.7 -2.1h-0.6zM82 605.2h2l-0.7 -2.1h-0.6zM87 609.9h2l-0.7 -2.1h-0.6zM96.5 609.9h2l-0.7 -2.1h-0.6zM101 609.9h2l-0.7 -2.1h-0.6zM112.5 609.9h2l-0.7 -2.1h-0.6zM121 612.6h2l-0.7 -2.1h-0.6zM126 612.6h2l-0.7 -2.1h-0.6zM131 612.6h2l-0.7 -2.1h-0.6zM134 615.9h2l-0.7 -2.1h-0.6zM139 615.9h2l-0.7 -2.1h-0.6zM147.5 615.9h2l-0.7 -2.1h-0.6zM154 615.9h2l-0.7 -2.1h-0.6zM156 615.9h2l-0.7 -2.1h-0.6zM161 615.9h2l-0.7 -2.1h-0.6zM164 615.9h2l-0.7 -2.1h-0.6zM169 620.9h2l-0.7 -2.1h-0.6zM173 620.9h2l-0.7 -2.1h-0.6zM184 620.9h2l-0.7 -2.1h-0.6z" class="cm"/>
<path d="M149.4 657.6H159" class="cr"/>
<path d="M153.5 657.9h1.4v-2.2h-1.4z" class="cm"/>
<text x="162.8" y="659.8" class="n">PD-L</text><path d="M0.368 0H0.275V-0.545L0.112 -0.452V-0.548L0.3 -0.716H0.368Z" transform="matrix(9 0 0 9 183.3 659.8)" class="one"/><text x="188.31" y="659.8" class="n">low</text>
<path d="M149.4 671H159" class="cb"/>
<path d="M153.5 671.3h1.4v-2.2h-1.4z" class="cm"/>
<text x="162.8" y="673.2" class="n">PD-L</text><path d="M0.368 0H0.275V-0.545L0.112 -0.452V-0.548L0.3 -0.716H0.368Z" transform="matrix(9 0 0 9 183.3 673.2)" class="one"/><text x="188.31" y="673.2" class="n">high</text>
<text x="65.1" y="674.9" class="n" font-style="italic">P</text>
<path d="M73.2 671.15h5.9M73.2 672.95h5.9" class="eq"/>
<text x="81.85" y="674.9" class="n">0.0</text><path d="M0.368 0H0.275V-0.545L0.112 -0.452V-0.548L0.3 -0.716H0.368Z" transform="matrix(9 0 0 9 94.36 674.9)" class="one"/>
<text x="10" y="725.75" class="n">PDL</text><path d="M0.368 0H0.275V-0.545L0.112 -0.452V-0.548L0.3 -0.716H0.368Z" transform="matrix(9 0 0 9 27.51 725.75)" class="one"/><text x="32.51" y="725.75" class="n">low</text>
<text x="52.79" y="725.75" class="n">267</text>
<text x="82.45" y="725.75" class="n">229</text>
<path d="M0.368 0H0.275V-0.545L0.112 -0.452V-0.548L0.3 -0.716H0.368Z" transform="matrix(9 0 0 9 112.11 725.75)" class="one"/><text x="117.12" y="725.75" class="n">96</text>
<path d="M0.368 0H0.275V-0.545L0.112 -0.452V-0.548L0.3 -0.716H0.368Z" transform="matrix(9 0 0 9 141.77 725.75)" class="one"/><text x="146.78" y="725.75" class="n">50</text>
<path d="M0.368 0H0.275V-0.545L0.112 -0.452V-0.548L0.3 -0.716H0.368Z" transform="matrix(9 0 0 9 171.43 725.75)" class="one"/><text x="176.44" y="725.75" class="n">07</text>
<text x="203.59" y="725.75" class="n">79</text>
<text x="10" y="739.5" class="n">PDL</text><path d="M0.368 0H0.275V-0.545L0.112 -0.452V-0.548L0.3 -0.716H0.368Z" transform="matrix(9 0 0 9 27.51 739.5)" class="one"/><text x="32.51" y="739.5" class="n">high</text>
<text x="55.29" y="739.5" class="n">4</text><path d="M0.368 0H0.275V-0.545L0.112 -0.452V-0.548L0.3 -0.716H0.368Z" transform="matrix(9 0 0 9 60.3 739.5)" class="one"/>
<text x="84.95" y="739.5" class="n">30</text>
<text x="114.61" y="739.5" class="n">25</text>
<path d="M0.368 0H0.275V-0.545L0.112 -0.452V-0.548L0.3 -0.716H0.368Z" transform="matrix(9 0 0 9 144.27 739.5)" class="one"/><text x="149.28" y="739.5" class="n">6</text>
<text x="176.44" y="739.5" class="n">9</text>
<text x="206.1" y="739.5" class="n">7</text></g>
<g><text x="233.1" y="579.6" class="lt">H</text>
<path d="M325.8 580.2V679" class="ay"/>
<path d="M325.8 679H477.5" class="ax"/>
<path d="M321.9 589.2H325.8" class="tk"/>
<path d="M0.368 0H0.275V-0.545L0.112 -0.452V-0.548L0.3 -0.716H0.368Z" transform="matrix(10 0 0 10 301.72 592.7)" class="one"/><text x="307.28" y="592.7" class="t">00</text>
<path d="M321.9 634.1H325.8" class="tk"/>
<text x="307.28" y="637.6" class="t">50</text>
<path d="M321.9 679H325.8" class="tk"/>
<text x="312.84" y="682.5" class="t">0</text>
<path d="M325.8 679V682.6" class="tk"/>
<text x="323.02" y="695.2" class="t">0</text>
<path d="M355.4 679V682.6" class="tk"/>
<path d="M0.368 0H0.275V-0.545L0.112 -0.452V-0.548L0.3 -0.716H0.368Z" transform="matrix(10 0 0 10 352.62 695.2)" class="one"/>
<path d="M385 679V682.6" class="tk"/>
<text x="382.22" y="695.2" class="t">2</text>
<path d="M414.6 679V682.6" class="tk"/>
<text x="411.82" y="695.2" class="t">3</text>
<path d="M444.2 679V682.6" class="tk"/>
<text x="441.42" y="695.2" class="t">4</text>
<path d="M473.8 679V682.6" class="tk"/>
<text x="471.02" y="695.2" class="t">5</text>
<text x="401.75" y="710.8" class="yl" text-anchor="middle" textLength="18.8" lengthAdjust="spacingAndGlyphs">Years</text>
<g transform="translate(294.5,629.6) rotate(-90)"><text x="-34.4" y="0" class="yl" textLength="24.6" lengthAdjust="spacingAndGlyphs">Overall</text><text x="-6.6" y="0" class="yl" textLength="25.7" lengthAdjust="spacingAndGlyphs">survival</text><text x="22.9" y="0" class="yl" textLength="11.7" lengthAdjust="spacingAndGlyphs">(%)</text></g>
<path d="M326 589.3H326.2" class="cb"/>
<path d="M326.2 589V596" class="cb"/>
<path d="M326 596H327.8" class="cb"/>
<path d="M327.8 596V598.2" class="cb"/>
<path d="M328 598.2H331.2" class="cb"/>
<path d="M331.2 598V601.8" class="cb"/>
<path d="M331 601.8H333.6" class="cb"/>
<path d="M334 601.8H334.6" class="cb"/>
<path d="M334.6 602V604.2" class="cb"/>
<path d="M334.6 604V607.5" class="cb"/>
<path d="M334.6 608V611.9" class="cb"/>
<path d="M335 611.9H349.5" class="cb"/>
<path d="M349.5 612V615.3" class="cb"/>
<path d="M350 615.3H351.9" class="cb"/>
<path d="M351.9 615V617.2" class="cb"/>
<path d="M352 617.2H352.4" class="cb"/>
<path d="M352.4 617V620.5" class="cb"/>
<path d="M352 620.5H381.1" class="cb"/>
<path d="M381.1 620V626.5" class="cb"/>
<path d="M381 626.5H399.6" class="cb"/>
<path d="M399.6 626V632.9" class="cb"/>
<path d="M400 632.9H430.4" class="cb"/>
<path d="M430.4 633V648.2" class="cb"/>
<path d="M430 648.2H473" class="cb"/>
<polyline points="325.8,589.3 331.2,589.3 331.2,593.6 343.2,593.6 343.2,598.1 474.2,598.1" class="cr"/>
<path d="M330.3 589.3h1.4l-0.15 -2h-1.1zM347.3 598.1h1.4l-0.15 -2h-1.1zM361.8 598.1h1.4l-0.15 -2h-1.1zM366.3 598.1h1.4l-0.15 -2h-1.1zM387.3 598.1h1.4l-0.15 -2h-1.1zM391.5 598.1h1.4l-0.15 -2h-1.1zM396.5 598.1h1.4l-0.15 -2h-1.1zM419.8 598.1h1.4l-0.15 -2h-1.1zM425.3 598.1h1.4l-0.15 -2h-1.1zM428.3 598.1h1.4l-0.15 -2h-1.1zM431.3 598.1h1.4l-0.15 -2h-1.1zM435.3 598.1h1.4l-0.15 -2h-1.1zM439.3 598.1h1.4l-0.15 -2h-1.1zM450.8 598.1h1.4l-0.15 -2h-1.1zM353 621h2l-0.7 -2.1h-0.6zM362.5 621h2l-0.7 -2.1h-0.6zM378 621h2l-0.7 -2.1h-0.6zM391.2 627h2l-0.7 -2.1h-0.6zM399.7 633.4h2l-0.7 -2.1h-0.6zM405 633.4h2l-0.7 -2.1h-0.6zM413 633.4h2l-0.7 -2.1h-0.6zM450 648.7h2l-0.7 -2.1h-0.6z" class="cm"/>
<path d="M413.9 657.6H423.5" class="cr"/>
<path d="M418 657.9h1.4v-2.2h-1.4z" class="cm"/>
<text x="427.3" y="659.8" class="n">PDL</text><path d="M0.368 0H0.275V-0.545L0.112 -0.452V-0.548L0.3 -0.716H0.368Z" transform="matrix(9 0 0 9 444.81 659.8)" class="one"/><text x="449.81" y="659.8" class="n">high/LAG3low</text>
<path d="M413.9 670.9H423.5" class="cb"/>
<path d="M418 671.2h1.4v-2.2h-1.4z" class="cm"/>
<text x="427.3" y="673.1" class="n">PDL</text><path d="M0.368 0H0.275V-0.545L0.112 -0.452V-0.548L0.3 -0.716H0.368Z" transform="matrix(9 0 0 9 444.81 673.1)" class="one"/><text x="449.81" y="673.1" class="n">high/LAG3high</text>
<text x="331.3" y="674.8" class="n" font-style="italic">P</text>
<path d="M339.4 671.05h5.9M339.4 672.85h5.9" class="eq"/>
<text x="348.05" y="674.8" class="n">0.005</text>
<text x="232.8" y="726" class="n">PDL</text><path d="M0.368 0H0.275V-0.545L0.112 -0.452V-0.548L0.3 -0.716H0.368Z" transform="matrix(9 0 0 9 250.31 726)" class="one"/><text x="255.31" y="726" class="n">high/LAG3low</text>
<text x="320.79" y="726" class="n">2</text><path d="M0.368 0H0.275V-0.545L0.112 -0.452V-0.548L0.3 -0.716H0.368Z" transform="matrix(9 0 0 9 325.8 726)" class="one"/>
<path d="M0.368 0H0.275V-0.545L0.112 -0.452V-0.548L0.3 -0.716H0.368Z" transform="matrix(9 0 0 9 350.39 726)" class="one"/><text x="355.4" y="726" class="n">7</text>
<path d="M0.368 0H0.275V-0.545L0.112 -0.452V-0.548L0.3 -0.716H0.368Z" transform="matrix(9 0 0 9 379.99 726)" class="one"/><text x="385" y="726" class="n">6</text>
<path d="M0.368 0H0.275V-0.545L0.112 -0.452V-0.548L0.3 -0.716H0.368Z" transform="matrix(9 0 0 9 409.59 726)" class="one"/><text x="414.6" y="726" class="n">3</text>
<text x="441.7" y="726" class="n">7</text>
<text x="471.3" y="726" class="n">6</text>
<text x="232.8" y="739.6" class="n">PDL</text><path d="M0.368 0H0.275V-0.545L0.112 -0.452V-0.548L0.3 -0.716H0.368Z" transform="matrix(9 0 0 9 250.31 739.6)" class="one"/><text x="255.31" y="739.6" class="n">high/LAG3high</text>
<text x="320.79" y="739.6" class="n">20</text>
<path d="M0.368 0H0.275V-0.545L0.112 -0.452V-0.548L0.3 -0.716H0.368Z" transform="matrix(9 0 0 9 350.39 739.6)" class="one"/><text x="355.4" y="739.6" class="n">3</text>
<path d="M0.368 0H0.275V-0.545L0.112 -0.452V-0.548L0.3 -0.716H0.368Z" transform="matrix(9 0 0 9 379.99 739.6)" class="one"/><text x="385" y="739.6" class="n">0</text>
<text x="412.1" y="739.6" class="n">4</text>
<text x="441.7" y="739.6" class="n">2</text>
<text x="471.3" y="739.6" class="n">2</text></g>
<path d="M518.5 1V747M1 746.5H519" stroke="#8a8a8a" stroke-width="1" fill="none"/>
<path d="M1.5 1V746M1 1.5H518" stroke="#dcdcdc" stroke-width="1" fill="none"/>
<rect x="0.5" y="0.5" width="519" height="747" fill="none" stroke="#000" stroke-width="1"/>
</svg></body></html>
